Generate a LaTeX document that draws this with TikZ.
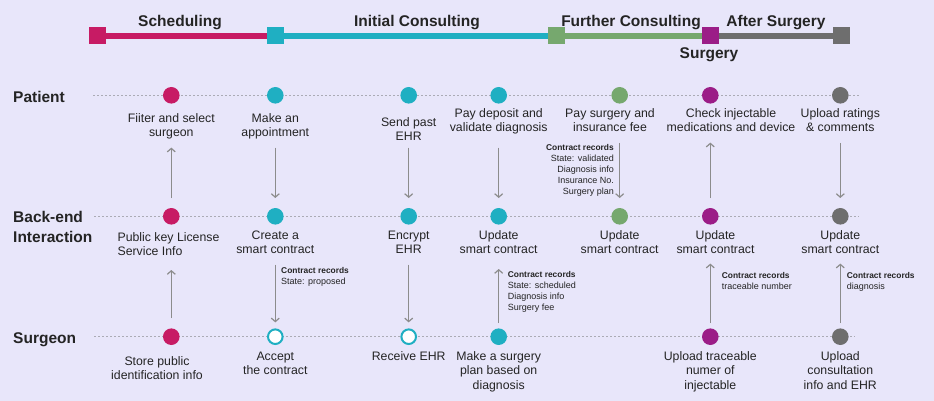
\documentclass[tikz,border=0pt]{standalone}
\usepackage{fontspec}
\setmainfont{Liberation Sans}
\usetikzlibrary{arrows.meta}
\definecolor{bgc}{HTML}{E8E6FA}
\definecolor{cSched}{HTML}{C71B64}
\definecolor{cInit}{HTML}{1FAFC2}
\definecolor{cFurther}{HTML}{76A86E}
\definecolor{cSurg}{HTML}{9B1D87}
\definecolor{cAfter}{HTML}{6E6E6E}
\definecolor{txt}{HTML}{242424}
\definecolor{arr}{HTML}{8C8C8C}
\definecolor{lanec}{HTML}{ABABB5}
\tikzset{
  dot/.style={circle,fill=#1,minimum size=16.6pt,inner sep=0,outer sep=0},
  hollow/.style={circle,draw=#1,fill=white,line width=2pt,minimum size=14.6pt,inner sep=0,outer sep=1pt},
  sq/.style={fill=#1,minimum size=17pt,inner sep=0,outer sep=0},
  lane/.style={lanec,line width=1pt,dash pattern=on 2pt off 2pt},
  role/.style={font=\fontsize{15.5}{20}\selectfont\bfseries,anchor=north west,align=left,inner sep=0,text=txt},
  phase/.style={font=\fontsize{15.5}{18}\selectfont\bfseries,anchor=base,inner sep=0,text=txt},
  act/.style={font=\fontsize{12.3}{14.3}\selectfont,align=center,anchor=north,inner sep=0,text=txt},
  rec/.style={font=\fontsize{9}{11}\selectfont,align=left,anchor=north west,inner sep=0,text=txt},
  flow/.style={->,arr,line width=1.2pt},
}
\newcommand{\rectitle}{{\fontsize{8.4}{11}\selectfont\bfseries Contract records}}
\begin{document}
\begin{tikzpicture}[x=1pt,y=-1pt,>={Straight Barb[length=3.5pt,width=8pt]}]
\fill[bgc] (0,0) rectangle (934,401);
\useasboundingbox (0,0) rectangle (934,401);
\node[sq=cSched] (sch) at (97.5,36) {};
\node[sq=cInit] (ini) at (275.3,36) {};
\node[sq=cFurther] (fur) at (556.3,36) {};
\node[sq=cSurg] (sur) at (710.5,36) {};
\node[sq=cAfter] (aft) at (841.3,36) {};
\draw[cSched,line width=6pt] (sch) -- (ini);
\draw[cInit,line width=6pt] (ini) -- (fur);
\draw[cFurther,line width=6pt] (fur) -- (sur);
\draw[cAfter,line width=6pt] (sur) -- (aft);
\node[phase] (tSch) at (180,26.7) {Scheduling};
\node[phase] (tIni) at (417,26.7) {Initial Consulting};
\node[phase] (tFur) at (631,26.7) {Further Consulting};
\node[phase] (tAft) at (776,26.7) {After Surgery};
\node[phase] (tSur) at (709,58.5) {Surgery};
\node[role] (patient) at (13,91.5) {Patient};
\node[role] (backend) at (13,211) {Back-end\\Interaction};
\node[role] (surgeon) at (13,332.5) {Surgeon};
\coordinate (pL) at (93,95.3);   \coordinate (pR) at (860,95.3);
\coordinate (bL) at (94.3,216.3); \coordinate (bR) at (859,216.3);
\coordinate (sL) at (94.3,336.7); \coordinate (sR) at (855,336.7);
\foreach \a/\b in {pL/pR,bL/bR,sL/sR}{\draw[lane] (\a) -- (\b);}
\node[dot=cSched] (p1) at (171.3,95.3) {};
\node[dot=cInit] (p2) at (275.3,95.3) {};
\node[dot=cInit] (p3) at (408.7,95.3) {};
\node[dot=cInit] (p4) at (498.7,95.3) {};
\node[dot=cFurther] (p5) at (619.7,95.3) {};
\node[dot=cSurg] (p6) at (710.3,95.3) {};
\node[dot=cAfter] (p7) at (840.3,95.3) {};
\node[dot=cSched] (b1) at (171.3,216.3) {};
\node[dot=cInit] (b2) at (275.3,216.3) {};
\node[dot=cInit] (b3) at (408.7,216.3) {};
\node[dot=cInit] (b4) at (498.7,216.3) {};
\node[dot=cFurther] (b5) at (619.7,216.3) {};
\node[dot=cSurg] (b6) at (710.3,216.3) {};
\node[dot=cAfter] (b7) at (840.3,216.3) {};
\node[dot=cSched] (s1) at (171.3,336.7) {};
\node[hollow=cInit] (s2) at (275.3,336.7) {};
\node[hollow=cInit] (s3) at (408.7,336.7) {};
\node[dot=cInit] (s4) at (498.7,336.7) {};
\node[dot=cSurg] (s6) at (710.3,336.7) {};
\node[dot=cAfter] (s7) at (840.3,336.7) {};
\node[act] (pt1) at (171.3,113) {Fiiter and select\\surgeon};
\node[act] (pt2) at (275.3,113) {Make an\\appointment};
\node[act] (pt3) at (408.7,117) {Send past\\EHR};
\node[act] (pt4) at (498.7,108.5) {Pay deposit and\\validate diagnosis};
\node[act] (pt5) at (610,108.5) {Pay surgery and\\insurance fee};
\node[act] (pt6) at (731,108.5) {Check injectable\\medications and device};
\node[act] (pt7) at (840.3,108.5) {Upload ratings\\\& comments};
\node[act,align=left] (bt1) at (168.5,232.5) {Public key License\\Service Info};
\node[act] (bt2) at (275.3,230.5) {Create a\\smart contract};
\node[act] (bt3) at (408.7,230.5) {Encrypt\\EHR};
\node[act] (bt4) at (498.7,230.5) {Update\\smart contract};
\node[act] (bt5) at (619.7,230.5) {Update\\smart contract};
\node[act] (bt6) at (715.5,230.5) {Update\\smart contract};
\node[act] (bt7) at (840.3,230.5) {Update\\smart contract};
\node[act] (st1) at (157,356) {Store public\\identification info};
\node[act] (st2) at (275.3,351.5) {Accept\\the contract};
\node[act] (st3) at (408.7,351.5) {Receive EHR};
\node[act] (st4) at (498.7,351.5) {Make a surgery\\plan based on\\diagnosis};
\node[act] (st6) at (710.3,351.5) {Upload traceable\\numer of\\injectable};
\node[act] (st7) at (840.3,351.5) {Upload\\consultation\\info and EHR};
\draw[flow,shorten <=10pt,shorten >=44pt] (b1) -- (p1);
\draw[flow,shorten <=44pt,shorten >=10pt] (p2) -- (b2);
\draw[flow,shorten <=44pt,shorten >=10pt] (p3) -- (b3);
\draw[flow,shorten <=44pt,shorten >=10pt] (p4) -- (b4);
\draw[flow,shorten <=39.4pt,shorten >=10pt] (p5) -- (b5);
\draw[flow,shorten <=10pt,shorten >=39pt] (b6) -- (p6);
\draw[flow,shorten <=39.4pt,shorten >=10pt] (p7) -- (b7);
\draw[flow,shorten <=10.4pt,shorten >=45.4pt] (s1) -- (b1);
\draw[flow,shorten <=40pt,shorten >=6pt] (b2) -- (s2);
\draw[flow,shorten <=40pt,shorten >=6pt] (b3) -- (s3);
\draw[flow,shorten <=5.4pt,shorten >=44.4pt] (s4) -- (b4);
\draw[flow,shorten <=5.4pt,shorten >=39pt] (s6) -- (b6);
\draw[flow,shorten <=5.4pt,shorten >=39pt] (s7) -- (b7);
\node[rec] (r2) at (281,267) {\rectitle\\State: proposed};
\node[rec] (r4) at (507.7,271) {\rectitle\\State: scheduled\\Diagnosis info\\Surgery fee};
\node[rec,anchor=north east,align=right] (r5) at (614,144) {\rectitle\\State: validated\\Diagnosis info\\Insurance No.\\Surgery plan};
\node[rec] (r6) at (721.7,272.7) {\rectitle\\traceable number};
\node[rec] (r7) at (846.7,272.7) {\rectitle\\diagnosis};
\end{tikzpicture}
\end{document}
